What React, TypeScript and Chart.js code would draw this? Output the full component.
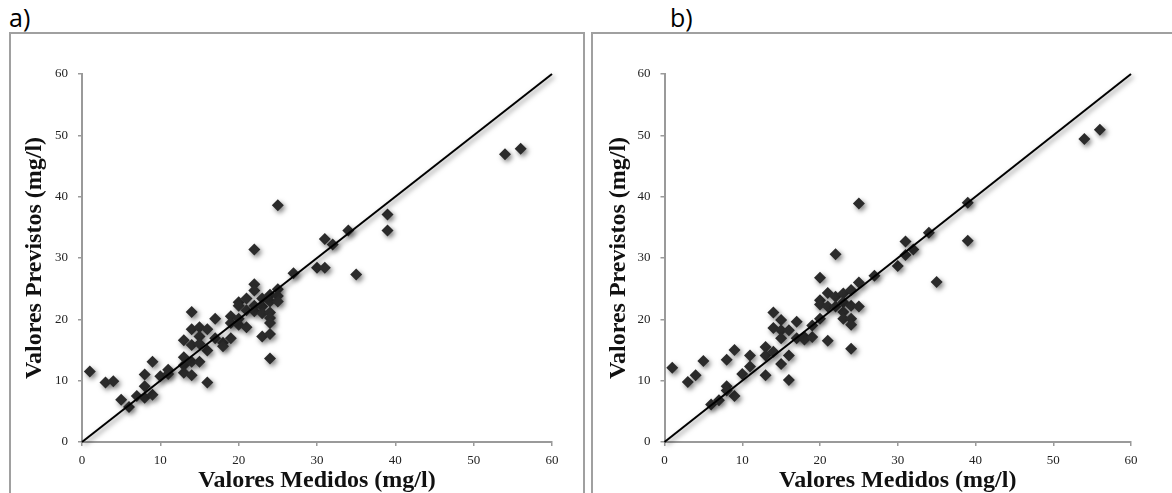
import React, { useEffect, useRef } from "react";
import { Chart, registerables } from "chart.js";

Chart.register(...registerables);

// Panel a) — measured vs predicted
const measuredA = [1, 3, 4, 5, 6, 7, 8, 8, 8, 9, 9, 10, 11, 11, 13, 13, 13, 13, 14, 14, 14, 14, 14, 15, 15, 15, 15, 16, 16, 16, 17, 17, 18, 18, 19, 19, 19, 20, 20, 20, 20, 21, 21, 21, 22, 22, 22, 22, 22, 23, 23, 23, 23, 24, 24, 24, 24, 24, 24, 24, 25, 25, 25, 25, 27, 30, 31, 31, 32, 34, 35, 39, 39, 54, 56];
const predictedA = [11.5, 9.7, 9.9, 6.9, 5.7, 7.5, 11, 9.1, 7.2, 13.1, 7.7, 10.7, 11.8, 11.1, 16.6, 13.8, 12.5, 11.3, 21.2, 18.4, 15.8, 13.1, 10.9, 18.7, 17.2, 16, 13.1, 18.4, 14.9, 9.7, 20.1, 16.9, 16.2, 15.6, 20.5, 19.4, 16.9, 22.8, 22.2, 20.1, 19.1, 23.4, 21.5, 18.7, 31.4, 25.7, 24.7, 22.2, 21.3, 23.4, 22.1, 21, 17.2, 24, 22.9, 21.1, 20.2, 19.4, 17.6, 13.6, 38.6, 24.9, 23.8, 22.9, 27.5, 28.4, 33.1, 28.4, 32.2, 34.5, 27.3, 37.1, 34.5, 46.9, 47.8];

// Panel b) — measured vs predicted
const measuredB = [1, 3, 4, 5, 6, 7, 8, 8, 8, 9, 9, 10, 11, 11, 13, 13, 13, 14, 14, 14, 15, 15, 15, 15, 16, 16, 16, 17, 17, 18, 18, 19, 19, 20, 20, 20, 20, 21, 21, 21, 22, 22, 22, 23, 23, 23, 23, 24, 24, 24, 24, 24, 25, 25, 25, 27, 30, 31, 31, 32, 34, 35, 39, 39, 54, 56];
const predictedB = [12.1, 9.8, 10.9, 13.2, 6.1, 6.8, 13.4, 9.1, 8.4, 15, 7.5, 11.1, 14.1, 12.3, 15.5, 14.1, 10.9, 21.1, 18.6, 14.7, 19.9, 18.2, 16.9, 12.7, 18.2, 14.1, 10.1, 19.6, 16.9, 17.1, 16.7, 19, 17.1, 26.8, 23.1, 22.4, 20.1, 24.3, 22.1, 16.5, 30.6, 23.7, 22.1, 24.2, 22.8, 21.2, 20.1, 24.8, 22.2, 20.1, 19.1, 15.2, 38.9, 26, 22.1, 27.1, 28.7, 32.7, 30.5, 31.4, 34.1, 26.1, 39, 32.8, 49.4, 50.9];

// 1:1 reference line
const lineX = [0, 60];
const lineY = [0, 60];

const axisMin = 0;
const axisMax = 60;
const axisStep = 10;

const xTitle = "Valores Medidos (mg/l)";
const yTitle = "Valores Previstos (mg/l)";

const CANVAS_W = 586;
const CANVAS_H = 495;

const shadowPlugin = {
  id: "shadowPlugin",
  beforeDatasetsDraw(chart: any) {
    const c = chart.ctx;
    c.save();
    c.shadowColor = "rgba(0,0,0,0.5)";
    c.shadowBlur = 5;
    c.shadowOffsetX = 2;
    c.shadowOffsetY = 2.5;
  },
  afterDatasetsDraw(chart: any) {
    chart.ctx.restore();
  },
};

function makeConfig(xs: number[], ys: number[], yScaleWidth: number, yTitlePad: number, rightPad: number) {
  const pts = xs.map((x, i) => ({ x, y: ys[i] }));
  const line = lineX.map((x, i) => ({ x, y: lineY[i] }));
  const axisCommon = (isX: boolean) => ({
    type: "linear",
    min: axisMin,
    max: axisMax,
    ticks: {
      stepSize: axisStep,
      color: "#222",
      padding: isX ? 7 : 10,
      font: { family: "'Liberation Serif', serif", size: 13 },
    },
    grid: {
      display: true,
      drawOnChartArea: false,
      drawTicks: true,
      tickLength: 4,
      color: "#9a9a9a",
      lineWidth: 1.5,
    },
    border: { display: true, color: "#9a9a9a", width: 2 },
    title: {
      display: true,
      text: isX ? xTitle : yTitle,
      color: "#111",
      font: { family: "'Liberation Serif', serif", size: 24, weight: "bold" },
      padding: isX ? { top: 0, bottom: 0 } : { top: yTitlePad, bottom: 0 },
    },
    afterFit(scale: any) {
      if (isX) {
        scale.height = CANVAS_H - 442;
      } else {
        scale.width = yScaleWidth;
      }
    },
  });
  return {
    type: "scatter",
    data: {
      datasets: [
        {
          type: "line",
          data: line,
          borderColor: "#000",
          borderWidth: 2,
          pointRadius: 0,
          fill: false,
          clip: false,
          order: 0,
        },
        {
          type: "scatter",
          data: pts,
          pointStyle: "rectRot",
          pointRadius: 6,
          backgroundColor: "#2b2b2b",
          borderColor: "#2b2b2b",
          borderWidth: 0,
          order: 1,
        },
      ],
    },
    options: {
      responsive: false,
      maintainAspectRatio: false,
      animation: false,
      devicePixelRatio: 1,
      layout: { padding: { left: 0, top: 74, right: rightPad, bottom: 0 } },
      plugins: { legend: { display: false }, tooltip: { enabled: false }, title: { display: false } },
      scales: { x: axisCommon(true), y: axisCommon(false) },
    },
    plugins: [shadowPlugin],
  };
}

function Panel({ left, xs, ys, yScaleWidth, yTitlePad, rightPad }: any) {
  const ref = useRef<HTMLCanvasElement>(null);
  useEffect(() => {
    const chart = new Chart(ref.current as HTMLCanvasElement, makeConfig(xs, ys, yScaleWidth, yTitlePad, rightPad) as any);
    return () => chart.destroy();
  }, []);
  return (
    <canvas
      ref={ref}
      width={CANVAS_W}
      height={CANVAS_H}
      style={{ position: "absolute", left, top: 0, width: CANVAS_W, height: CANVAS_H }}
    />
  );
}

export default function App() {
  useEffect(() => {
    document.body.style.margin = "0";
  }, []);
  const labelStyle: any = {
    position: "absolute",
    top: 2,
    fontFamily: "'Open Sans', 'Liberation Sans', sans-serif",
    fontSize: 25,
    lineHeight: "30px",
    color: "#000",
  };
  return (
    <div style={{ position: "fixed", left: 0, top: 0, width: 1172, height: 493, overflow: "hidden", background: "#fff" }}>
      <div style={{ position: "absolute", left: 9, top: 32, width: 576, height: 520, border: "2px solid #a0a0a0", boxSizing: "border-box" }} />
      <div style={{ position: "absolute", left: 591, top: 32, width: 620, height: 520, border: "2px solid #a0a0a0", boxSizing: "border-box" }} />
      <div style={{ ...labelStyle, left: 9 }}>a)</div>
      <div style={{ ...labelStyle, left: 670 }}>b)</div>
      <Panel left={0} xs={measuredA} ys={predictedA} yScaleWidth={82} yTitlePad={20} rightPad={34} />
      <Panel left={586} xs={measuredB} ys={predictedB} yScaleWidth={78.5} yTitlePad={18} rightPad={41} />
    </div>
  );
}
